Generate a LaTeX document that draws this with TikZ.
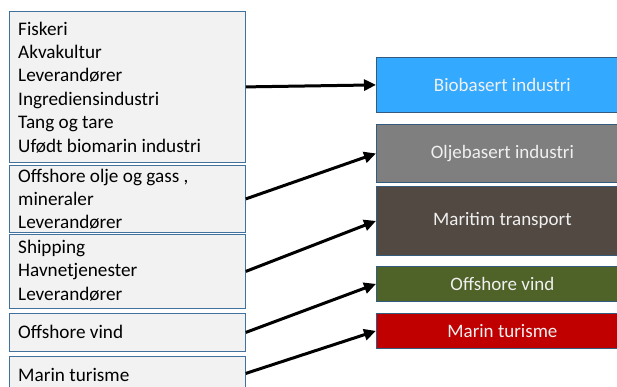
\documentclass[tikz,border=0pt]{standalone}
\usepackage{fontspec}
\setmainfont{Carlito}
\usetikzlibrary{arrows.meta}
\definecolor{lfill}{HTML}{F2F2F2}
\definecolor{bord}{HTML}{41719C}
\definecolor{cbio}{HTML}{33A9FF}
\definecolor{colje}{HTML}{7F7F7F}
\definecolor{cmar}{HTML}{524A42}
\definecolor{cvind}{HTML}{4F6228}
\definecolor{ctur}{HTML}{C00000}
\definecolor{rtext}{HTML}{F0F0F0}
\tikzset{
  lbox/.style={draw=bord, line width=0.8pt, fill=lfill, rectangle, inner sep=0pt, minimum width=236pt, anchor=north west},
  rbox/.style={draw=bord!80!black, line width=0.8pt, rectangle, inner sep=0pt, minimum width=252pt, anchor=north west,
    text=rtext, font=\fontsize{19}{23}\selectfont},
  ltext/.style={anchor=base west, inner sep=0pt, font=\fontsize{19.2}{23}\selectfont},
  conn/.style={line width=3pt, -{Triangle[length=12pt,width=11pt]}}
}
\begin{document}
\begin{tikzpicture}[x=1pt,y=-1pt]
\useasboundingbox (0,0) rectangle (617,386);
\begin{scope}
\clip (0,0) rectangle (617,386);
% left boxes
\node[lbox, minimum height=151pt] (b1) at (9,11) {};
\node[lbox, minimum height=67pt] (b2) at (9,165) {};
\node[lbox, minimum height=74pt] (b3) at (9,234) {};
\node[lbox, minimum height=38pt] (b4) at (9,313) {};
\node[lbox, minimum height=34pt] (b5) at (9,356) {};
% right boxes
\node[rbox, fill=cbio, minimum height=55pt] (r1) at (376,57) {Biobasert industri};
\node[rbox, fill=colje, minimum height=58pt] (r2) at (376,124) {Oljebasert industri};
\node[rbox, fill=cmar, minimum height=69pt] (r3) at (376,186) {Maritim transport};
\node[rbox, fill=cvind, minimum height=35pt] (r4) at (376,266) {Offshore vind};
\node[rbox, fill=ctur, minimum height=35pt] (r5) at (376,313) {Marin turisme};
\end{scope}
% left texts
\node[ltext] (t1) at (18,35) {Fiskeri};
\node[ltext] (t2) at (18,58.4) {Akvakultur};
\node[ltext] (t3) at (18,81.8) {Leverandører};
\node[ltext] (t4) at (18,105.2) {Ingrediensindustri};
\node[ltext] (t5) at (18,128.6) {Tang og tare};
\node[ltext] (t6) at (18,152) {Ufødt biomarin industri};
\node[ltext] (t7) at (18,182) {Offshore olje og gass ,};
\node[ltext] (t8) at (18,205.4) {mineraler};
\node[ltext] (t9) at (18,228.8) {Leverandører};
\node[ltext] (t10) at (18,253.5) {Shipping};
\node[ltext] (t11) at (18,276.9) {Havnetjenester};
\node[ltext] (t12) at (18,300.3) {Leverandører};
\node[ltext] (t13) at (18,338) {Offshore vind};
\node[ltext] (t14) at (18,381) {Marin turisme};
% connectors
\draw[conn] (b1.east) -- (r1.west);
\draw[conn] (b2.east) -- (r2.west);
\draw[conn] (b3.east) -- (r3.west);
\draw[conn] (b4.east) -- (r4.west);
\draw[conn] (b5.east) -- (r5.west);
\end{tikzpicture}
\end{document}
